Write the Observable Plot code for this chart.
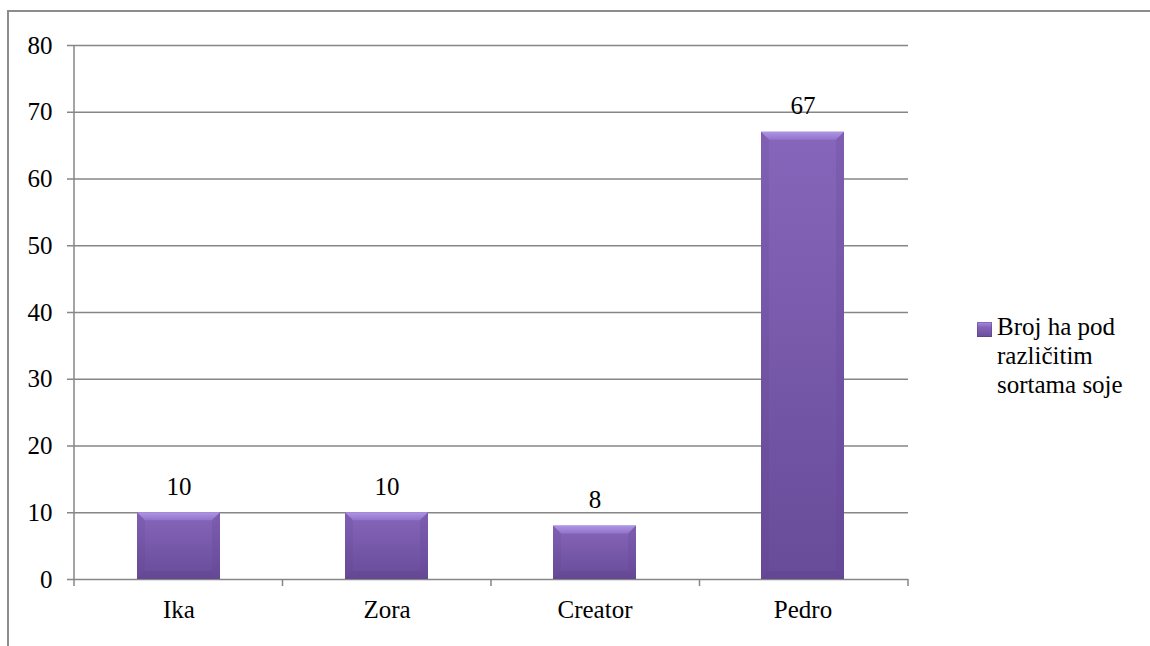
<!DOCTYPE html>
<html>
<head>
<meta charset="utf-8">
<script src="https://cdn.jsdelivr.net/npm/d3@7"></script>
<script src="https://cdn.jsdelivr.net/npm/@observablehq/plot@0.6"></script>
<style>
  @font-face { font-family: 'ChartSerif'; src: local('Liberation Serif'), local('LiberationSerif'), local('Liberation Serif Regular'), local('LiberationSerif-Regular'); }
  html, body { margin: 0; padding: 0; background: #fff; overflow: hidden; }
  #wrap { position: relative; width: 1150px; height: 646px; }
  #border { position: absolute; left: 7px; top: 10px; width: 1200px; height: 700px;
            border: 2px solid #8c8c8c; box-sizing: border-box; pointer-events: none; }
  #legend { position: absolute; left: 977px; top: 312px;
            font-size: 25px; line-height: 29px; color: #000; }
  #legend .sw { position: absolute; left: 0; top: 10px; width: 15px; height: 15px;
                background: linear-gradient(to bottom, #a88ee0 0%, #8464b8 35%, #6a4c9b 100%);
                box-shadow: inset 0 0 0 1px rgba(80,55,130,0.4); }
  #legend .tx { position: absolute; left: 20px; top: 0; width: 134px; }
</style>
</head>
<body>
<div id="wrap">
  <div id="chart"></div>
  <div id="border"></div>
  <div id="legend"><div class="sw"></div><div class="tx" id="legendText"></div></div>
</div>
<script>
// ---- data ----
const categories = ["Ika", "Zora", "Creator", "Pedro"];
const values = [10, 10, 8, 67];
const yTicks = [0, 10, 20, 30, 40, 50, 60, 70, 80];
const seriesName = "Broj ha pod različitim sortama soje";

const data = categories.map((c, i) => ({cat: c, val: values[i]}));
document.getElementById("legendText").textContent = seriesName;

const grid = "#868686";
const serif = "'Liberation Serif', ChartSerif, 'Times New Roman', serif";

const defs = () => {
  const d = d3.create("svg:defs");
  const g = d.append("linearGradient").attr("id", "barFill").attr("x1", 0).attr("y1", 0).attr("x2", 0).attr("y2", 1);
  g.append("stop").attr("offset", "0%").attr("stop-color", "#8666ba");
  g.append("stop").attr("offset", "100%").attr("stop-color", "#684b99");
  const t = d.append("linearGradient").attr("id", "bevelTop").attr("x1", 0).attr("y1", 0).attr("x2", 0).attr("y2", 1);
  t.append("stop").attr("offset", "0%").attr("stop-color", "#ae95e4");
  t.append("stop").attr("offset", "100%").attr("stop-color", "#9273cb");
  return d.node();
};

// bevels drawn from the library's scales
const bevels = (index, scales, vals, dims) => {
  const g = d3.create("svg:g");
  const bw = scales.x.bandwidth();
  data.forEach(d => {
    const x0 = scales.x(d.cat), x1 = x0 + bw;
    const yt = scales.y(d.val), yb = scales.y(0);
    const b = Math.min(8, (yb - yt) / 3);
    g.append("polygon").attr("points", `${x0},${yt} ${x1},${yt} ${x1 - b},${yt + b} ${x0 + b},${yt + b}`)
      .attr("fill", "url(#bevelTop)");
    g.append("polygon").attr("points", `${x0},${yt} ${x0 + b},${yt + b} ${x0 + b},${yb - b} ${x0},${yb}`)
      .attr("fill", "#5c3f8c").attr("fill-opacity", 0.15);
    g.append("polygon").attr("points", `${x1},${yt} ${x1 - b},${yt + b} ${x1 - b},${yb - b} ${x1},${yb}`)
      .attr("fill", "#5c3f8c").attr("fill-opacity", 0.2);
    g.append("polygon").attr("points", `${x0},${yb} ${x0 + b},${yb - b} ${x1 - b},${yb - b} ${x1},${yb}`)
      .attr("fill", "#4e3578").attr("fill-opacity", 0.15);
  });
  return g.node();
};

// left axis line and category-boundary tick marks
const frameTicks = (index, scales, vals, dims) => {
  const {width, marginLeft, marginRight, marginTop, height, marginBottom} = dims;
  const g = d3.create("svg:g").attr("stroke", grid).attr("stroke-width", 1.5);
  const left = marginLeft, right = width - marginRight, y0 = height - marginBottom;
  g.append("line").attr("x1", left).attr("x2", left).attr("y1", marginTop).attr("y2", y0 + 7);
  const n = categories.length;
  for (let i = 1; i <= n; i++) {
    const x = left + (right - left) * i / n;
    g.append("line").attr("x1", x).attr("x2", x).attr("y1", y0).attr("y2", y0 + 7);
  }
  return g.node();
};

const chart = Plot.plot({
  width: 1150,
  height: 646,
  marginLeft: 74,
  marginRight: 242,
  marginTop: 45,
  marginBottom: 67,
  style: {fontSize: "25px", color: "#000", background: "transparent", overflow: "visible"},
  x: {domain: categories, paddingInner: 0.6, paddingOuter: 0.3, label: null},
  y: {domain: [0, 80], label: null},
  marks: [
    defs,
    Plot.ruleY(yTicks, {stroke: grid, strokeWidth: 1.5}),
    Plot.axisY({ticks: yTicks, tickSize: 7, tickPadding: 15, stroke: grid, strokeWidth: 1.5, label: null, fontSize: 25}),
    Plot.axisX({tickSize: 0, tickPadding: 21, label: null, fontSize: 25}),
    frameTicks,
    Plot.barY(data, {x: "cat", y: "val", fill: "url(#barFill)"}),
    bevels,
    Plot.text(data, {x: "cat", y: "val", text: d => String(d.val), lineAnchor: "middle", dy: -26, fontSize: 25, fill: "#000"})
  ]
});
const setFont = el => el.style.setProperty("font-family", serif, "important");
setFont(chart);
chart.querySelectorAll("text, g, tspan").forEach(setFont);
document.getElementById("chart").appendChild(chart);
setFont(document.getElementById("legend"));
setFont(document.getElementById("legendText"));
</script>
</body>
</html>
